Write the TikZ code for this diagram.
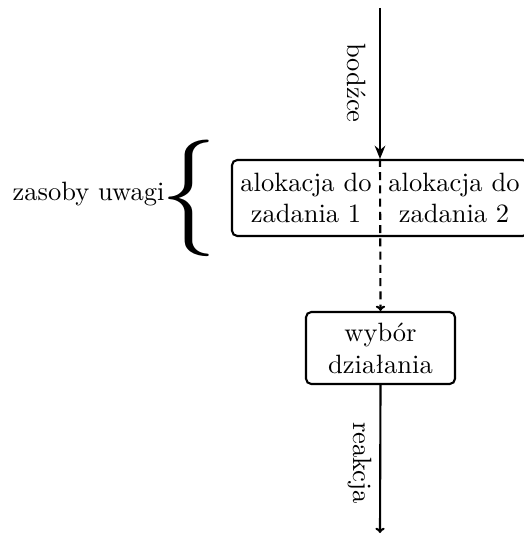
\documentclass[tikz,border=0pt]{standalone}
\usepackage{graphicx}
\usetikzlibrary{arrows.meta}
\begin{document}
\begin{tikzpicture}[x=0.3774pt,y=-0.3774pt,
  box/.style={draw, thick, rounded corners=2pt, inner sep=0pt},
  txt/.style={align=center, inner sep=0pt},
  flow/.style={thick},
  lbl/.style={rotate=-90, inner sep=0pt}]
\useasboundingbox (0,0) rectangle (523,535);
\coordinate (top) at (380,8);
\coordinate (bottom) at (380,533);
\node[box, minimum width={296*0.3774pt}, minimum height={76*0.3774pt}] (alloc) at (380,198) {};
\node[txt] (a1) at (306,198) {alokacja do\\zadania 1};
\node[txt] (a2) at (454,198) {alokacja do\\zadania 2};
\node[box, minimum width={149*0.3774pt}, minimum height={72*0.3774pt}] (wybor) at (380.5,348) {};
\node[txt] (w) at (380.5,348) {wybór\\działania};
\draw[flow, -{Stealth[length=5pt,width=4pt]}] (top) -- (alloc.north);
\draw[flow, dash pattern=on 3pt off 2pt, -{To[length=2pt,width=3.5pt]}] (alloc.north) -- (wybor.north);
\draw[flow, -{To[length=2pt,width=3.5pt]}] (wybor.south) -- (bottom);
\node[lbl] (l1) at (357,83) {bodźce};
\node[lbl] (l2) at (360,463) {reakcja};
\node[anchor=base east, inner sep=0pt] (res) at (165,201) {zasoby uwagi};
\node[inner sep=0pt] (brace) at (189,198) {\scalebox{4.3}[4.4]{$\{$}};
\end{tikzpicture}
\end{document}
